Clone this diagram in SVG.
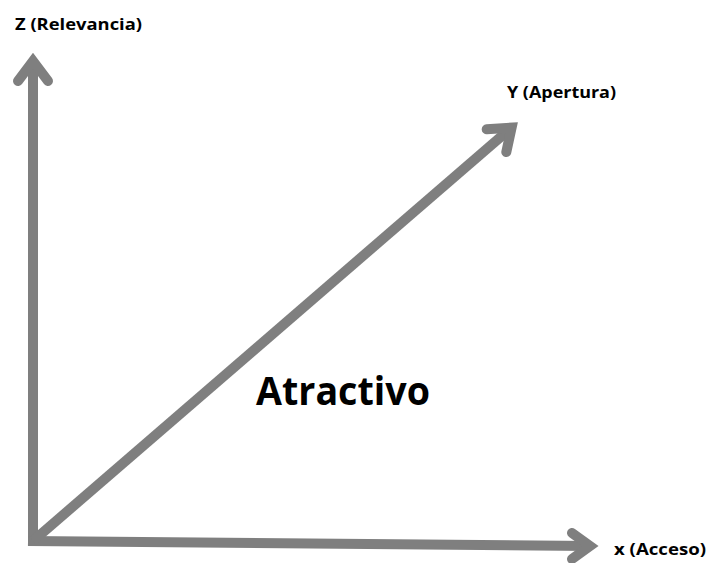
<svg xmlns="http://www.w3.org/2000/svg" width="707" height="563" viewBox="0 0 707 563">
<style>
.ax{fill:none;stroke:#7f7f7f;stroke-width:10}
.hd{fill:none;stroke:#7f7f7f;stroke-width:10;stroke-linecap:round;stroke-linejoin:miter;stroke-miterlimit:10}
.lb{font-family:"Open Sans","Liberation Sans",sans-serif;font-weight:bold;fill:#000}
</style>
<rect width="707" height="563" fill="#fff"/>
<g id="connectors">
<path class="ax" d="M33,541 L33,62"/>
<path class="hd" d="M18,81 L33,61 L48,81"/>
<path class="ax" d="M28,541 L590,546"/>
<path class="hd" d="M572,533 L590,546 L572,559"/>
<path class="ax" d="M33,541 L511,128"/>
<path class="hd" d="M486.7,129.3 L511.6,127.6 L506.3,152.1"/>
</g>
<g id="node-z"><text class="lb" x="15" y="30" font-size="15.5" textLength="127" lengthAdjust="spacingAndGlyphs">Z (Relevancia)</text></g>
<g id="node-y"><text class="lb" x="507" y="98" font-size="15.5" textLength="109" lengthAdjust="spacingAndGlyphs">Y (Apertura)</text></g>
<g id="node-x"><text class="lb" x="614" y="555" font-size="15.5" textLength="92" lengthAdjust="spacingAndGlyphs">x (Acceso)</text></g>
<g id="node-atractivo"><text class="lb" x="256" y="405" font-size="39" textLength="174" lengthAdjust="spacingAndGlyphs">Atractivo</text></g>
</svg>
